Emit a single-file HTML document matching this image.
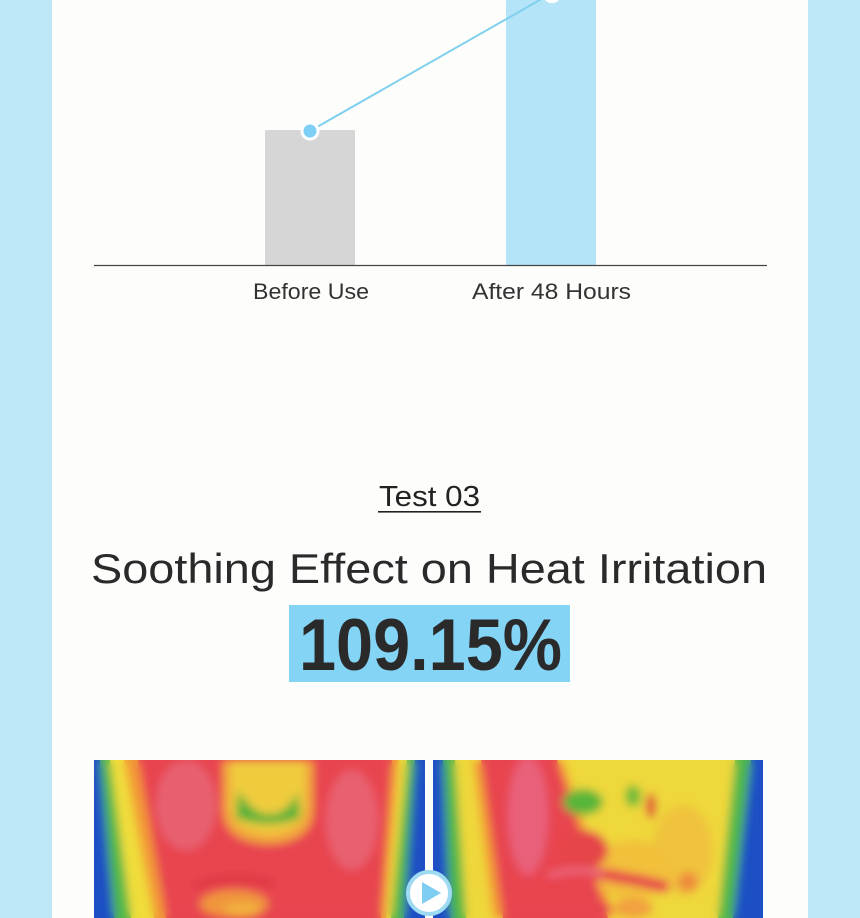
<!DOCTYPE html>
<html>
<head>
<meta charset="utf-8">
<style>
html,body{margin:0;padding:0;background:#bee7f7;overflow:hidden;}
body{width:860px;height:918px;overflow:hidden;}
svg{display:block;}
text{font-family:"Liberation Sans",sans-serif;}
</style>
</head>
<body>
<svg width="860" height="918" viewBox="0 0 860 918" xmlns="http://www.w3.org/2000/svg">
  <defs>
    <filter id="bl" filterUnits="userSpaceOnUse" x="0" y="0" width="331" height="158">
      <feGaussianBlur stdDeviation="4.5"/>
    </filter>
    <clipPath id="cL"><rect x="0" y="0" width="331" height="158"/></clipPath>
    <clipPath id="cR"><rect x="0" y="0" width="330" height="158"/></clipPath>
  </defs>

  <!-- background -->
  <rect x="0" y="0" width="860" height="918" fill="#bee7f7"/>
  <rect x="52" y="0" width="756" height="918" fill="#fdfdfb"/>

  <!-- chart -->
  <rect x="265" y="130" width="90" height="135" fill="#d6d6d6"/>
  <rect x="506" y="0" width="90" height="265" fill="#b4e4f8"/>
  <line x1="94" y1="265.5" x2="767" y2="265.5" stroke="#444" stroke-width="1.2"/>
  <line x1="310" y1="131" x2="552" y2="-7" stroke="#7fd0ef" stroke-width="2"/>
  <circle cx="310" cy="131" r="8" fill="#7dcff5" stroke="#ffffff" stroke-width="3"/>
  <circle cx="552" cy="-7" r="8.5" fill="#7dcff5" stroke="#ffffff" stroke-width="3"/>

  <text x="253" y="299" font-size="22" fill="#333" textLength="116" lengthAdjust="spacingAndGlyphs">Before Use</text>
  <text x="472" y="299" font-size="22" fill="#333" textLength="159" lengthAdjust="spacingAndGlyphs">After 48 Hours</text>

  <!-- Test 03 -->
  <text x="379" y="506" font-size="29" fill="#222" textLength="101" lengthAdjust="spacingAndGlyphs">Test 03</text>
  <rect x="378" y="511" width="103" height="1.6" fill="#222"/>

  <text x="91" y="583" font-size="42" fill="#2a2a2a" textLength="676" lengthAdjust="spacingAndGlyphs">Soothing Effect on Heat Irritation</text>

  <rect x="289" y="605" width="281" height="77" fill="#84d4f6"/>
  <text x="299" y="670" font-size="73" font-weight="bold" fill="#2a2a2a" textLength="263" lengthAdjust="spacingAndGlyphs">109.15%</text>

  <!-- left thermal image -->
  <g transform="translate(94,760)">
    <g clip-path="url(#cL)">
      <!-- sharp underlay -->
      <rect x="0" y="0" width="331" height="158" fill="#1f4fc4"/>
      <polygon points="6,0 321,0 310,158 20,158" fill="#4fb848"/>
      <polygon points="16,0 313,0 297,158 37,158" fill="#f0dd3a"/>
      <polygon points="30,0 305,0 292,158 60,158" fill="#f39a36"/>
      <polygon points="44,0 298,0 287,158 72,158" fill="#e8444f"/>
      <g filter="url(#bl)">
        <rect x="0" y="0" width="331" height="158" fill="#1f4fc4"/>
        <polygon points="6,0 321,0 310,158 20,158" fill="#4fb848"/>
        <polygon points="16,0 313,0 297,158 37,158" fill="#f0dd3a"/>
        <polygon points="30,0 305,0 292,158 60,158" fill="#f39a36"/>
        <polygon points="44,0 298,0 287,158 72,158" fill="#e8444f"/>
        <!-- pink cheeks -->
        <ellipse cx="92" cy="45" rx="30" ry="45" fill="#e8606f"/>
        <ellipse cx="258" cy="60" rx="26" ry="50" fill="#e9606f"/>
        <!-- nose -->
        <path d="M129,0 L219,0 L219,50 Q218,82 175,84 Q130,82 129,50 Z" fill="#f2a83a"/>
        <path d="M137,0 L211,0 L211,46 Q209,72 175,74 Q139,72 137,46 Z" fill="#f0cc3c"/>
        <path d="M144,30 Q160,56 175,54 Q192,56 204,32 L206,58 Q175,70 142,58 Z" fill="#55b23a"/>
        <!-- mouth -->
        <ellipse cx="140" cy="144" rx="34" ry="14" fill="#f0963c"/>
        <ellipse cx="148" cy="150" rx="18" ry="8" fill="#f2b03e"/>
        <path d="M100,126 Q140,112 180,124" stroke="#d9303a" stroke-width="5" fill="none"/>
        <!-- bottom corners -->
        <ellipse cx="0" cy="158" rx="18" ry="24" fill="#1f4fc4"/>
        <ellipse cx="331" cy="158" rx="18" ry="30" fill="#1f4fc4"/>
      </g>
    </g>
  </g>

  <!-- right thermal image -->
  <g transform="translate(433,760)">
    <g clip-path="url(#cR)">
      <rect x="0" y="0" width="330" height="158" fill="#1f4fc4"/>
      <polygon points="10,0 318,0 300,158 17,158" fill="#4fb848"/>
      <polygon points="22,0 302,0 285,158 33,158" fill="#efd83a"/>
      <polygon points="48,0 124,0 175,158 70,158" fill="#e8444f"/>
      <g filter="url(#bl)">
        <rect x="0" y="0" width="330" height="158" fill="#1f4fc4"/>
        <polygon points="10,0 318,0 300,158 17,158" fill="#4fb848"/>
        <polygon points="22,0 302,0 285,158 33,158" fill="#efd83a"/>
        <polygon points="40,0 130,0 182,158 60,158" fill="#f39a36"/>
        <polygon points="48,0 124,0 175,158 70,158" fill="#e8444f"/>
        <ellipse cx="95" cy="55" rx="20" ry="60" fill="#e9607a"/>
        <!-- right side yellow tone variations -->
        <ellipse cx="250" cy="90" rx="30" ry="45" fill="#f0c23c"/>
        <ellipse cx="200" cy="110" rx="40" ry="30" fill="#f2c03a"/>
        <!-- nose greens -->
        <ellipse cx="150" cy="42" rx="20" ry="13" fill="#58b63a"/>
        <ellipse cx="200" cy="36" rx="8" ry="11" fill="#6cbb3a"/>
        <ellipse cx="218" cy="46" rx="5" ry="13" fill="#e0403a"/>
        <!-- red middle / lips -->
        <ellipse cx="150" cy="90" rx="25" ry="20" fill="#e6454a"/>
        <path d="M113,122 Q150,108 190,118 Q215,122 235,128" stroke="#e8404c" stroke-width="12" fill="none"/>
        <path d="M115,116 Q145,106 170,114" stroke="#ec6a80" stroke-width="6" fill="none"/>
        <ellipse cx="150" cy="148" rx="28" ry="10" fill="#e8444f"/>
        <ellipse cx="200" cy="148" rx="20" ry="10" fill="#f2a040"/>
        <ellipse cx="255" cy="122" rx="10" ry="10" fill="#ef8a3e"/>
        <!-- bottom corners -->
        <ellipse cx="0" cy="158" rx="18" ry="30" fill="#1f4fc4"/>
        <ellipse cx="330" cy="158" rx="22" ry="30" fill="#1f4fc4"/>
      </g>
    </g>
  </g>

  <!-- play button -->
  <circle cx="429" cy="893" r="21" fill="#ffffff" stroke="#9fdaf3" stroke-width="4"/>
  <polygon points="422,882 422,904 441,893" fill="#7fcdf0"/>
</svg>
</body>
</html>
